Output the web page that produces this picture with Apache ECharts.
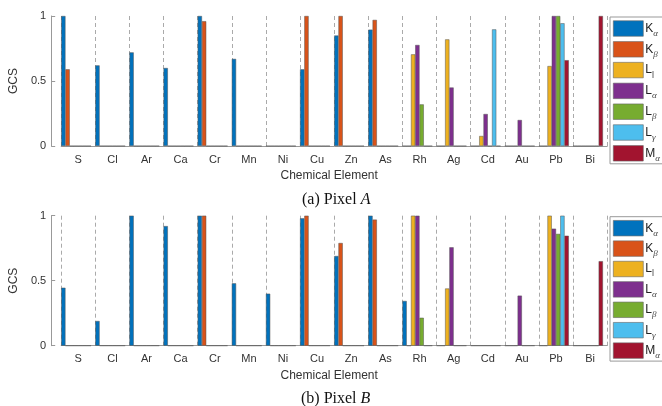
<!DOCTYPE html>
<html>
<head>
<meta charset="utf-8">
<script src="https://cdn.jsdelivr.net/npm/echarts@6/dist/echarts.min.js"></script>
<style>
    html, body { margin: 0; padding: 0; background: #fff; }
    #gcs { width: 662px; height: 406px; }
</style>
</head>
<body>
<div id="gcs"></div>
<script>
// categories and line names
var elements = ['S', 'Cl', 'Ar', 'Ca', 'Cr', 'Mn', 'Ni', 'Cu', 'Zn', 'As', 'Rh', 'Ag', 'Cd', 'Au', 'Pb', 'Bi'];
var lineNames = ['Kα', 'Kβ', 'Ll', 'Lα', 'Lβ', 'Lγ', 'Mα'];
var lineColors = ['#0072BD', '#D95319', '#EDB120', '#7E2F8E', '#77AC30', '#4DBEEE', '#A2142F'];
var yTicks = [0, 0.5, 1];

// Pixel A
var aKa = [1, 0.62, 0.72, 0.60, 1, 0.67, 0, 0.59, 0.85, 0.895, 0, 0, 0, 0, 0, 0];
var aKb = [0.59, 0, 0, 0, 0.96, 0, 0, 1, 1, 0.97, 0, 0, 0, 0, 0, 0];
var aLl = [0, 0, 0, 0, 0, 0, 0, 0, 0, 0, 0.705, 0.82, 0.077, 0, 0.615, 0];
var aLa = [0, 0, 0, 0, 0, 0, 0, 0, 0, 0, 0.777, 0.45, 0.246, 0.20, 1, 0];
var aLb = [0, 0, 0, 0, 0, 0, 0, 0, 0, 0, 0.32, 0, 0, 0, 1, 0];
var aLg = [0, 0, 0, 0, 0, 0, 0, 0, 0, 0, 0, 0, 0.897, 0, 0.944, 0];
var aMa = [0, 0, 0, 0, 0, 0, 0, 0, 0, 0, 0, 0, 0, 0, 0.66, 1];

// Pixel B
var bKa = [0.446, 0.19, 1, 0.92, 1, 0.48, 0.40, 0.98, 0.69, 1, 0.344, 0, 0, 0, 0, 0];
var bKb = [0, 0, 0, 0, 1, 0, 0, 1, 0.79, 0.97, 0, 0, 0, 0, 0, 0];
var bLl = [0, 0, 0, 0, 0, 0, 0, 0, 0, 0, 1, 0.44, 0, 0, 1, 0];
var bLa = [0, 0, 0, 0, 0, 0, 0, 0, 0, 0, 1, 0.757, 0, 0.385, 0.90, 0];
var bLb = [0, 0, 0, 0, 0, 0, 0, 0, 0, 0, 0.215, 0, 0, 0, 0.86, 0];
var bLg = [0, 0, 0, 0, 0, 0, 0, 0, 0, 0, 0, 0, 0, 0, 1, 0];
var bMa = [0, 0, 0, 0, 0, 0, 0, 0, 0, 0, 0, 0, 0, 0, 0.846, 0.65];

var pixelA = [aKa, aKb, aLl, aLa, aLb, aLg, aMa];
var pixelB = [bKa, bKb, bLl, bLa, bLb, bLg, bMa];

var font = 'Liberation Sans';
var plotTops = [16, 215.7];

function legendLabel(name) {
    var sub = name.slice(1);
    return '{m|' + name[0] + '}' + (sub === 'l' ? '{l|l}' : '{s|' + sub + '}');
}

function makeLegend(idx) {
    return {
        orient: 'vertical',
        left: 610,
        top: plotTops[idx] + 1,
        data: lineNames,
        icon: 'rect',
        itemWidth: 30,
        itemHeight: 15.5,
        itemGap: idx === 0 ? 1.8 : 1.4,
        padding: [2, 20, 1, 3],
        backgroundColor: '#fff',
        borderColor: '#999',
        borderWidth: 1,
        borderRadius: 0,
        selectedMode: false,
        itemStyle: { borderColor: '#666', borderWidth: 0.6 },
        formatter: legendLabel,
        textStyle: {
            fontFamily: font,
            fontSize: 12,
            color: '#222',
            lineHeight: 19,
            padding: [0, 0, 0, -3],
            rich: {
                m: { fontFamily: font, fontSize: 12, color: '#222', lineHeight: 19, verticalAlign: 'middle' },
                s: { fontFamily: 'Liberation Serif', fontStyle: 'italic', fontSize: 9, color: '#444', verticalAlign: 'bottom', lineHeight: 9 },
                l: { fontFamily: font, fontSize: 9, color: '#444', verticalAlign: 'bottom', lineHeight: 9 }
            }
        }
    };
}

var grids = [], xAxes = [], yAxes = [], series = [];
for (var g = 0; g < 2; g++) {
    grids.push({ left: 57.3, top: plotTops[g], width: 549.9, height: 130 });
    xAxes.push({
        type: 'category',
        gridIndex: g,
        data: elements,
        name: 'Chemical Element',
        nameLocation: 'middle',
        nameGap: 24,
        nameTextStyle: { fontFamily: font, fontSize: 12, color: '#333', padding: [0, 10, 0, 0] },
        axisLine: { lineStyle: { color: '#999', width: 1 } },
        axisTick: { show: false },
        axisLabel: { fontFamily: font, fontSize: 11, color: '#333', margin: 8, interval: 0 },
        splitLine: { show: true, interval: 0, lineStyle: { type: [4, 3], color: '#aaa', width: 1 } }
    });
    yAxes.push({
        type: 'value',
        gridIndex: g,
        min: yTicks[0],
        max: yTicks[yTicks.length - 1],
        interval: 0.5,
        offset: 10,
        name: 'GCS',
        nameLocation: 'middle',
        nameGap: 21,
        nameTextStyle: { fontFamily: font, fontSize: 12, color: '#333' },
        axisLine: { show: true, lineStyle: { color: '#999', width: 1 } },
        axisTick: { show: true, inside: true, length: 4, lineStyle: { color: '#999' } },
        axisLabel: { fontFamily: font, fontSize: 11, color: '#333', margin: 5 },
        splitLine: { show: false }
    });

    var vals = g === 0 ? pixelA : pixelB;
    for (var i = 0; i < lineNames.length; i++) {
        series.push({
            name: lineNames[i],
            type: 'bar',
            xAxisIndex: g,
            yAxisIndex: g,
            data: vals[i],
            barGap: '0%',
            barCategoryGap: '0%',
            itemStyle: { color: lineColors[i], borderColor: '#555', borderWidth: 0.5 },
            silent: true
        });
    }
    // empty slot so the group sits against the left dashed line
    series.push({
        name: 'pad',
        type: 'bar',
        xAxisIndex: g,
        yAxisIndex: g,
        data: elements.map(function () { return '-'; }),
        barGap: '0%',
        barCategoryGap: '0%'
    });
}

var chart = echarts.init(document.getElementById('gcs'));
var option = {
    animation: false,
    color: lineColors,
    title: [
        {
            text: '(a) Pixel {i|A}',
            left: 297, top: 187,
            textStyle: { fontFamily: 'Liberation Serif', fontSize: 16, fontWeight: 'normal', color: '#111',
                rich: { i: { fontFamily: 'Liberation Serif', fontStyle: 'italic', fontSize: 16, color: '#111' } } }
        },
        {
            text: '(b) Pixel {i|B}',
            left: 296, top: 386,
            textStyle: { fontFamily: 'Liberation Serif', fontSize: 16, fontWeight: 'normal', color: '#111',
                rich: { i: { fontFamily: 'Liberation Serif', fontStyle: 'italic', fontSize: 16, color: '#111' } } }
        }
    ],
    legend: [makeLegend(0), makeLegend(1)],
    grid: grids,
    xAxis: xAxes,
    yAxis: yAxes,
    series: series
};
chart.setOption(option);
</script>
</body>
</html>
